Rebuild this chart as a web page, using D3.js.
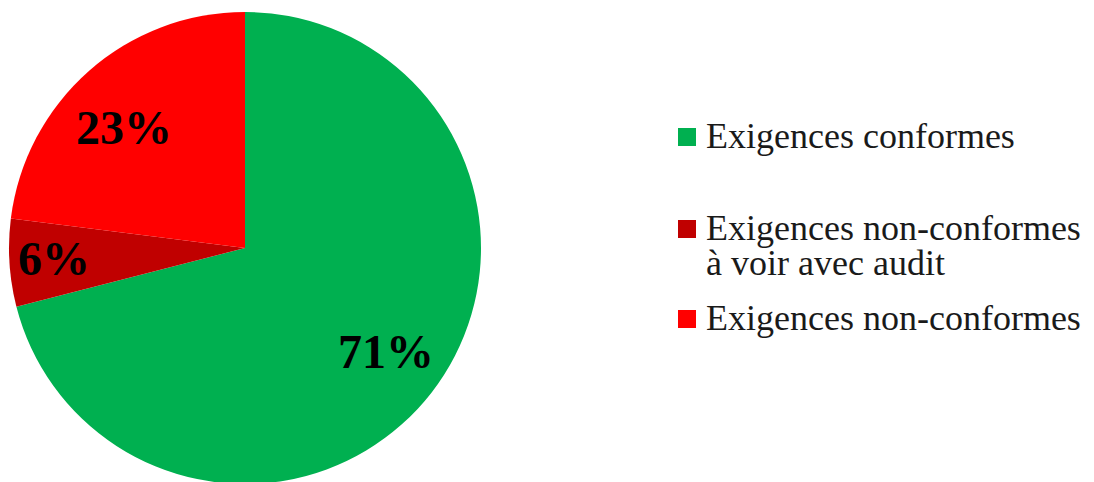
<!DOCTYPE html>
<html>
<head>
<meta charset="utf-8">
<script src="https://cdn.jsdelivr.net/npm/d3@7"></script>
<style>
  html, body { margin: 0; padding: 0; background: #fff; }
  svg { display: block; }
</style>
</head>
<body>
<svg id="chart" width="1094" height="482"></svg>
<script>
const categories = ["Exigences conformes", "Exigences non-conformes à voir avec audit", "Exigences non-conformes"];
const legendLines = [["Exigences conformes"], ["Exigences non-conformes", "à voir avec audit"], ["Exigences non-conformes"]];
const values = [71, 6, 23];
const labels = ["71%", "6%", "23%"];
const colors = ["#00B050", "#C00000", "#FF0000"];

const svg = d3.select("#chart");
const cx = 245, cy = 248, R = 236;
const labelFactor = [0.74, 0.81, 0.725];
const labelAngleShift = [-1.7, 0.6, -3.6]; // degrees

const pie = d3.pie().sort(null).value(d => d)(values);
const arc = d3.arc().innerRadius(0).outerRadius(R);

const g = svg.append("g").attr("transform", `translate(${cx},${cy})`);
g.selectAll("path.slice").data(pie).join("path")
  .attr("class", "slice")
  .attr("d", arc)
  .attr("fill", (d, i) => colors[i]);

g.selectAll("text.lbl").data(pie).join("text")
  .attr("class", "lbl")
  .attr("transform", (d, i) => {
    const a = (d.startAngle + d.endAngle) / 2 + labelAngleShift[i] * Math.PI / 180;
    const r = R * labelFactor[i];
    return `translate(${r * Math.sin(a)},${-r * Math.cos(a)})`;
  })
  .attr("text-anchor", "middle")
  .attr("dy", "0.35em")
  .attr("font-family", "'Liberation Serif', 'Times New Roman', serif")
  .attr("font-weight", "bold")
  .attr("font-size", 48)
  .attr("fill", "#000")
  .text((d, i) => labels[i]);

// Legend
const legendY = [148, 240, 330];
const lg = svg.append("g");
categories.forEach((c, i) => {
  lg.append("rect")
    .attr("x", 678).attr("y", legendY[i] - 20)
    .attr("width", 18).attr("height", 18)
    .attr("fill", colors[i]);
  legendLines[i].forEach((line, j) => {
    lg.append("text")
      .attr("x", 706).attr("y", legendY[i] + j * 35)
      .attr("font-family", "'Liberation Serif', 'Times New Roman', serif")
      .attr("font-size", 36)
      .attr("fill", "#1a1a1a")
      .text(line);
  });
});
</script>
</body>
</html>
